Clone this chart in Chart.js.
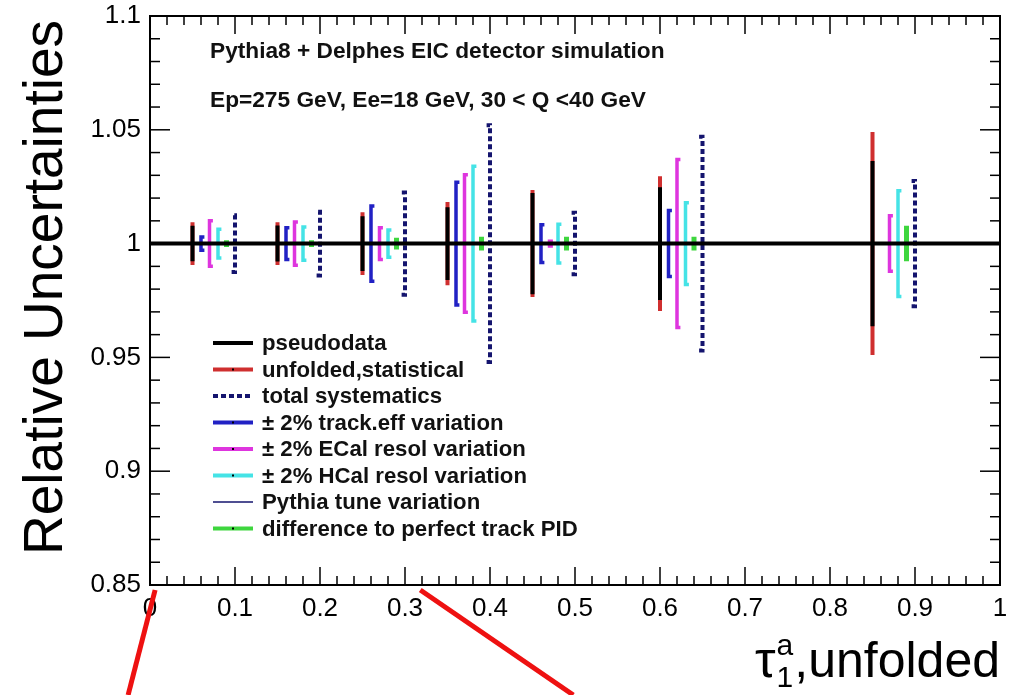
<!DOCTYPE html>
<html><head><meta charset="utf-8">
<script src="https://cdn.jsdelivr.net/npm/chart.js@4.4.1/dist/chart.umd.min.js"></script>
<style>html,body{margin:0;padding:0;background:#fff}#wrap{width:1021px;height:695px;position:relative}</style>
</head><body><div id="wrap"><canvas id="c" width="1021" height="695"></canvas></div>
<script>
// ---- data (half-widths of relative uncertainty bands around 1) ----
const binCenters   = [0.05, 0.15, 0.25, 0.35, 0.45, 0.6, 0.85];
const pseudodata   = [0.0078, 0.0079, 0.0120, 0.0160, 0.0222, 0.0248, 0.0363];
const unfoldedStat = [0.0094, 0.0094, 0.0138, 0.0183, 0.0235, 0.0296, 0.0490];
const totalSyst    = [0.0125, 0.0140, 0.0225, 0.0520, 0.0135, 0.0470, 0.0275];
const trackEff     = [0.0029, 0.0070, 0.0165, 0.0270, 0.0083, 0.0145, 0.0000];
const ecalResol    = [0.0100, 0.0095, 0.0070, 0.0302, 0.0010, 0.0369, 0.0122];
const hcalResol    = [0.0063, 0.0073, 0.0060, 0.0340, 0.0085, 0.0180, 0.0232];
const pythiaTune   = [0, 0, 0, 0, 0, 0, 0];
const perfectPID   = [0.0015, 0.0015, 0.0026, 0.0030, 0.0030, 0.0030, 0.0078];
const seriesOffset = {pseudo:0, stat:0, track:0.01, ecal:0.02, hcal:0.03, pid:0.04, syst:0.05, pythia:0.05};
const unityX = [0, 1];
const unityY = 1;
const xTickValues = [0, 0.1, 0.2, 0.3, 0.4, 0.5, 0.6, 0.7, 0.8, 0.9, 1];
const yTickValues = [0.85, 0.9, 0.95, 1, 1.05, 1.1];
const textLines = ['Pythia8 + Delphes EIC detector simulation', 'Ep=275 GeV, Ee=18 GeV, 30 < Q <40 GeV'];
const yTitle = 'Relative Uncertainties';

function bars(half, off, cap){
  const pts = [];
  binCenters.forEach((c,i)=>{
    const x = c + off;
    if (cap && half[i] > 0) {
      pts.push({x:x+cap, y:1-half[i]}, {x:x, y:1-half[i]}, {x:x, y:1+half[i]}, {x:x+cap, y:1+half[i]}, {x:x, y:null});
    } else {
      pts.push({x:x, y:1-half[i]}, {x:x, y:1+half[i]}, {x:x, y:null});
    }
  });
  return pts;
}
const base = {pointRadius:0, spanGaps:false, fill:false, tension:0, borderCapStyle:'butt', borderJoinStyle:'miter'};
const datasets = [
  Object.assign({label:'unfolded,statistical', data:bars(unfoldedStat, seriesOffset.stat), borderColor:'#cf2f2f', borderWidth:4, order:9, mark:true}, base),
  Object.assign({label:'pseudodata', data:bars(pseudodata, seriesOffset.pseudo), borderColor:'#000000', borderWidth:4, order:8}, base),
  Object.assign({label:'± 2% track.eff variation', data:bars(trackEff, seriesOffset.track, 0.004), borderColor:'#2121c4', borderWidth:3.5, order:7, mark:true}, base),
  Object.assign({label:'± 2% ECal resol variation', data:bars(ecalResol, seriesOffset.ecal, 0.004), borderColor:'#de35de', borderWidth:3.5, order:6, mark:true}, base),
  Object.assign({label:'± 2% HCal resol variation', data:bars(hcalResol, seriesOffset.hcal, 0.004), borderColor:'#45e3e6', borderWidth:3.5, order:5, mark:true}, base),
  Object.assign({label:'difference to perfect track PID', data:bars(perfectPID, seriesOffset.pid), borderColor:'#3ed63e', borderWidth:5, order:4, mark:true}, base),
  Object.assign({label:'total systematics', data:bars(totalSyst, seriesOffset.syst, -0.004), borderColor:'#14146e', borderWidth:4, borderDash:[5,3], order:3}, base),
  Object.assign({label:'Pythia tune variation', data:bars(pythiaTune, seriesOffset.pythia), borderColor:'#14146e', borderWidth:1.5, order:2}, base),
  Object.assign({label:'unity', data:unityX.map(v=>({x:v, y:unityY})), borderColor:'#000000', borderWidth:4, order:1}, base)
];
const legendOrder = ['pseudodata','unfolded,statistical','total systematics','± 2% track.eff variation','± 2% ECal resol variation','± 2% HCal resol variation','Pythia tune variation','difference to perfect track PID'];

const fmt = v => String(Math.round(v*100)/100);
const tickFont = {family:'Liberation Sans, Arial, sans-serif', size:26};

const decor = {
  id:'decor',
  afterDraw(chart){
    const {ctx, chartArea:a, scales:{x, y}} = chart;
    ctx.save();
    const L = (x1,y1,x2,y2)=>{ctx.beginPath();ctx.moveTo(x1,y1);ctx.lineTo(x2,y2);ctx.stroke();};
    ctx.strokeStyle = '#000';
    ctx.lineWidth = 1.5;
    for (let i=0;i<=25;i++){
      const py = y.getPixelForValue(0.85 + i*0.01);
      const len = (i%5===0) ? 20 : 10;
      L(a.left, py, a.left+len, py); L(a.right, py, a.right-len, py);
    }
    for (let i=0;i<=50;i++){
      const px = x.getPixelForValue(i*0.02);
      const len = (i%5===0) ? 18 : 9;
      L(px, a.bottom, px, a.bottom-len); L(px, a.top, px, a.top+len);
    }
    ctx.lineWidth = 2;
    ctx.strokeRect(a.left, a.top, a.right-a.left, a.bottom-a.top);

    // annotation text
    ctx.fillStyle = '#111';
    ctx.font = 'bold 22.7px "Liberation Sans", Arial, sans-serif';
    ctx.textAlign = 'left'; ctx.textBaseline = 'alphabetic';
    ctx.fillText(textLines[0], a.left+60, a.top+42);
    ctx.fillText(textLines[1], a.left+60, a.top+91);

    // legend
    const dsByLabel = {};
    chart.data.datasets.forEach(d=>dsByLabel[d.label]=d);
    legendOrder.forEach((lab,i)=>{
      const d = dsByLabel[lab];
      const cy = a.top + 327 + i*26.5;
      ctx.strokeStyle = d.borderColor;
      ctx.lineWidth = d.borderWidth === 1.5 ? 1.5 : 4;
      ctx.setLineDash(d.borderDash || []);
      L(a.left+63, cy, a.left+103, cy);
      ctx.setLineDash([]);
      if (d.mark){ ctx.fillStyle='#000'; ctx.fillRect(a.left+82, cy-1, 2, 2); }
      ctx.fillStyle = '#111';
      ctx.font = 'bold 22.2px "Liberation Sans", Arial, sans-serif';
      ctx.textBaseline = 'middle';
      ctx.fillText(lab, a.left+112, cy+1);
    });

    // y title
    ctx.save();
    ctx.fillStyle = '#000';
    ctx.font = '55px "Liberation Sans", Arial, sans-serif';
    ctx.translate(a.left-88, (a.top+a.bottom)/2 - 13);
    ctx.rotate(-Math.PI/2);
    ctx.textAlign='center'; ctx.textBaseline='alphabetic';
    ctx.fillText(yTitle, 0, 0);
    ctx.restore();

    // x title: tau_1^a,unfolded
    const bx = a.right, by = a.bottom + 92;
    ctx.fillStyle = '#000';
    ctx.textBaseline = 'alphabetic';
    ctx.font = '50px "Liberation Sans", Arial, sans-serif';
    ctx.textAlign = 'right';
    ctx.fillText(',unfolded', bx, by);
    const w1 = ctx.measureText(',unfolded').width;
    ctx.font = '30px "Liberation Sans", Arial, sans-serif';
    const ws = Math.max(ctx.measureText('a').width, ctx.measureText('1').width);
    ctx.textAlign = 'left';
    const sx = bx - w1 - ws - 1;
    ctx.fillText('a', sx, by - 22);
    ctx.fillText('1', sx, by + 10);
    ctx.font = '52px "Liberation Sans", Arial, sans-serif';
    ctx.textAlign = 'right';
    ctx.fillText('τ', sx - 1, by);

    // red pointer strokes
    ctx.strokeStyle = '#ee1111';
    ctx.lineWidth = 5;
    L(x.getPixelForValue(0.006), a.bottom+5, x.getPixelForValue(0.006)-27, chart.height);
    L(x.getPixelForValue(0.318), a.bottom+5, x.getPixelForValue(0.318)+153, chart.height);
    ctx.restore();
  }
};

new Chart(document.getElementById('c').getContext('2d'), {
  type:'line',
  data:{datasets:datasets},
  options:{
    responsive:false, animation:false, devicePixelRatio:1,
    layout:{padding:{top:16, right:21, left:0, bottom:0}},
    plugins:{legend:{display:false}, tooltip:{enabled:false}},
    scales:{
      x:{type:'linear', min:0, max:1,
         grid:{display:false, drawTicks:false}, border:{display:false},
         afterBuildTicks: s => { s.ticks = xTickValues.map(v=>({value:v})); },
         ticks:{autoSkip:false, maxRotation:0, padding:8, color:'#000', font:tickFont, callback:fmt},
         afterFit: s => { s.height = 110; s.paddingLeft = 0; s.paddingRight = 0; }},
      y:{type:'linear', min:0.85, max:1.1,
         grid:{display:false, drawTicks:false}, border:{display:false},
         afterBuildTicks: s => { s.ticks = yTickValues.map(v=>({value:v})); },
         ticks:{autoSkip:false, padding:9, color:'#000', font:tickFont, callback:fmt},
         afterFit: s => { s.width = 150; s.paddingTop = 0; s.paddingBottom = 0; }}
    }
  },
  plugins:[decor]
});
</script>
</body></html>
